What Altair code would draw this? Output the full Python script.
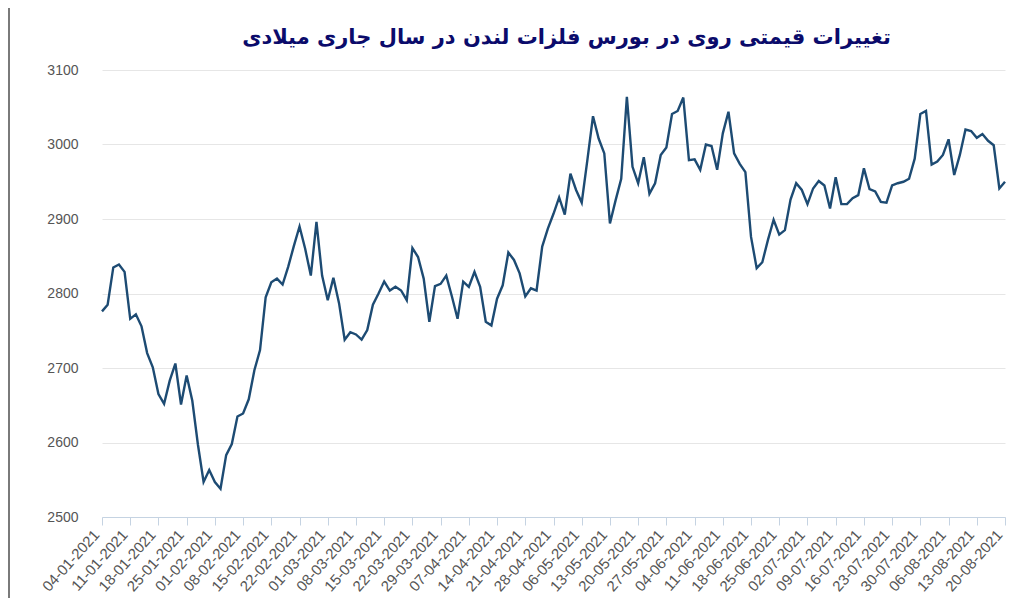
import altair as alt
import pandas as pd

title_text = "تغییرات قیمتی روی در بورس فلزات لندن در سال جاری میلادی"

# LME non-trading days (UK bank holidays) in the period
holidays = ["2021-04-02", "2021-04-05", "2021-05-03", "2021-05-31"]

tick_labels = [
    "04-01-2021", "11-01-2021", "18-01-2021", "25-01-2021", "01-02-2021",
    "08-02-2021", "15-02-2021", "22-02-2021", "01-03-2021", "08-03-2021",
    "15-03-2021", "22-03-2021", "29-03-2021", "07-04-2021", "14-04-2021",
    "21-04-2021", "28-04-2021", "06-05-2021", "13-05-2021", "20-05-2021",
    "27-05-2021", "04-06-2021", "11-06-2021", "18-06-2021", "25-06-2021",
    "02-07-2021", "09-07-2021", "16-07-2021", "23-07-2021", "30-07-2021",
    "06-08-2021", "13-08-2021", "20-08-2021",
]

y_ticks = [2500, 2600, 2700, 2800, 2900, 3000, 3100]

prices = [
    2776, 2785, 2835, 2839, 2829, 2766, 2772, 2756, 2720, 2701,
    2665, 2652, 2683, 2706, 2651, 2690, 2656, 2597, 2547, 2563,
    2547, 2538, 2583, 2598, 2635, 2639, 2658, 2697, 2724, 2795,
    2815, 2820, 2812, 2836, 2864, 2890, 2860, 2824, 2896, 2824,
    2791, 2821, 2787, 2738, 2748, 2745, 2738, 2751, 2785, 2800,
    2816, 2804, 2809, 2804, 2791, 2861, 2849, 2820, 2762, 2810,
    2813, 2824, 2796, 2766, 2816, 2809, 2829, 2809, 2762, 2757,
    2793, 2811, 2855, 2845, 2827, 2796, 2807, 2804, 2863, 2887,
    2907, 2929, 2906, 2961, 2939, 2922, 2979, 3038, 3008, 2988,
    2894, 2925, 2954, 3064, 2970, 2948, 2983, 2934, 2948, 2986,
    2996, 3041, 3045, 3063, 2979, 2980, 2966, 3000, 2998, 2966,
    3015, 3044, 2988, 2974, 2963, 2876, 2834, 2842, 2872, 2899,
    2879, 2885, 2926, 2948, 2939, 2920, 2941, 2951, 2945, 2914,
    2956, 2920, 2920, 2928, 2932, 2968, 2940, 2937, 2923, 2922,
    2945, 2948, 2950, 2954, 2981, 3041, 3045, 2973, 2977, 2986,
    3007, 2959, 2986, 3020, 3018, 3009, 3014, 3005, 2999, 2941, 2950,
]

dates = pd.bdate_range("2021-01-04", "2021-08-20", freq="C", holidays=holidays)
df = pd.DataFrame({"date": dates.strftime("%d-%m-%Y"), "price": prices})

line = alt.Chart(df).mark_line(color="#1d4b73", strokeWidth=2.4).encode(
    x=alt.X(
        "date:O",
        sort=None,
        scale=alt.Scale(type="point", padding=0),
        axis=alt.Axis(
            values=tick_labels,
            title=None,
            labelAngle=-48,
            labelAlign="right",
            labelBaseline="bottom",
            labelFont="Liberation Sans",
            labelFontSize=15,
            labelColor="#555555",
            labelPadding=12,
            tickColor="#c5d3e2",
            tickSize=8,
            domainColor="#c5d3e2",
            grid=False,
        ),
    ),
    y=alt.Y(
        "price:Q",
        scale=alt.Scale(domain=[2500, 3100]),
        axis=alt.Axis(
            values=y_ticks,
            format="d",
            title=None,
            ticks=False,
            domain=False,
            labelFont="Liberation Sans",
            labelFontSize=14,
            labelColor="#555555",
            labelPadding=24,
            gridColor="#e6e6e6",
        ),
    ),
)

frame = alt.Chart(df).mark_rule(color="#7a7a7a", strokeWidth=2).encode(
    x=alt.value(-93),
    y=alt.value(-62),
    y2=alt.value(528),
)

chart = (
    alt.layer(line, frame)
    .properties(
        width=903,
        height=447,
        title=alt.TitleParams(
            text=title_text,
            font="DejaVu Sans",
            fontSize=21,
            fontWeight="bold",
            color="#0b0b6b",
            anchor="middle",
            dx=13,
            offset=-41,
        ),
        padding={"left": 94, "top": 62, "right": 3, "bottom": 81},
        autosize=alt.AutoSizeParams(type="none"),
        background="white",
    )
    .configure_view(stroke=None)
)

chart.save("out.html", embed_options={"renderer": "svg", "actions": False})
